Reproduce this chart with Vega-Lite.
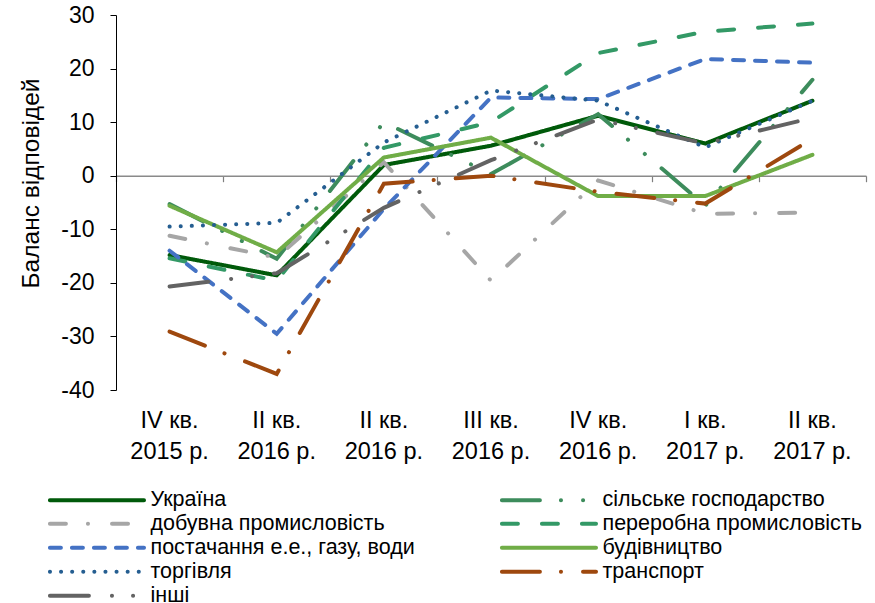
{
  "$schema": "https://vega.github.io/schema/vega-lite/v6.json",
  "width": 750,
  "height": 375,
  "autosize": "none",
  "padding": {"left": 116, "top": 15, "right": 9, "bottom": 213},
  "config": {
    "view": {"stroke": null},
    "font": "Liberation Sans",
    "axis": {"labelFont": "Liberation Sans", "titleFont": "Liberation Sans", "labelColor": "#000000", "titleColor": "#000000", "grid": false},
    "legend": {
      "orient": "none",
      "legendX": -69,
      "legendY": 474,
      "columns": 2,
      "symbolType": "M-1,0H11",
      "symbolSize": 246,
      "symbolStrokeWidth": 4,
      "labelFont": "Liberation Sans",
      "labelFontSize": 21.5,
      "labelColor": "#000000",
      "labelOffset": 82,
      "labelLimit": 400,
      "rowPadding": 1,
      "columnPadding": 78,
      "padding": 0
    }
  },
  "data": {
    "values": [
      {"q": "1|IV кв.|2015 р.", "s": "Україна", "v": -14.8},
      {"q": "2|II кв.|2016 р.", "s": "Україна", "v": -18.6},
      {"q": "3|II кв.|2016 р.", "s": "Україна", "v": 2.0},
      {"q": "4|III кв.|2016 р.", "s": "Україна", "v": 5.6},
      {"q": "5|IV кв.|2016 р.", "s": "Україна", "v": 11.2},
      {"q": "6|I кв.|2017 р.", "s": "Україна", "v": 6.0},
      {"q": "7|II кв.|2017 р.", "s": "Україна", "v": 14.0},

      {"q": "1|IV кв.|2015 р.", "s": "сільське господарство", "v": -5.3},
      {"q": "2|II кв.|2016 р.", "s": "сільське господарство", "v": -15.5},
      {"q": "3|II кв.|2016 р.", "s": "сільське господарство", "v": 10.0},
      {"q": "4|III кв.|2016 р.", "s": "сільське господарство", "v": 0.3},
      {"q": "5|IV кв.|2016 р.", "s": "сільське господарство", "v": 11.5},
      {"q": "6|I кв.|2017 р.", "s": "сільське господарство", "v": -5.6},
      {"q": "7|II кв.|2017 р.", "s": "сільське господарство", "v": 17.9},

      {"q": "1|IV кв.|2015 р.", "s": "добувна промисловість", "v": -11.2},
      {"q": "2|II кв.|2016 р.", "s": "добувна промисловість", "v": -15.3},
      {"q": "3|II кв.|2016 р.", "s": "добувна промисловість", "v": 2.5},
      {"q": "4|III кв.|2016 р.", "s": "добувна промисловість", "v": -19.6},
      {"q": "5|IV кв.|2016 р.", "s": "добувна промисловість", "v": -0.9},
      {"q": "6|I кв.|2017 р.", "s": "добувна промисловість", "v": -7.1},
      {"q": "7|II кв.|2017 р.", "s": "добувна промисловість", "v": -6.9},

      {"q": "1|IV кв.|2015 р.", "s": "переробна промисловість", "v": -15.4},
      {"q": "2|II кв.|2016 р.", "s": "переробна промисловість", "v": -19.6},
      {"q": "3|II кв.|2016 р.", "s": "переробна промисловість", "v": 5.2},
      {"q": "4|III кв.|2016 р.", "s": "переробна промисловість", "v": 10.0},
      {"q": "5|IV кв.|2016 р.", "s": "переробна промисловість", "v": 22.9},
      {"q": "6|I кв.|2017 р.", "s": "переробна промисловість", "v": 26.9},
      {"q": "7|II кв.|2017 р.", "s": "переробна промисловість", "v": 28.4},

      {"q": "1|IV кв.|2015 р.", "s": "постачання е.е., газу, води", "v": -14.0},
      {"q": "2|II кв.|2016 р.", "s": "постачання е.е., газу, води", "v": -29.5},
      {"q": "3|II кв.|2016 р.", "s": "постачання е.е., газу, води", "v": -6.2},
      {"q": "4|III кв.|2016 р.", "s": "постачання е.е., газу, води", "v": 14.6},
      {"q": "5|IV кв.|2016 р.", "s": "постачання е.е., газу, води", "v": 14.3},
      {"q": "6|I кв.|2017 р.", "s": "постачання е.е., газу, води", "v": 21.8},
      {"q": "7|II кв.|2017 р.", "s": "постачання е.е., газу, води", "v": 21.1},

      {"q": "1|IV кв.|2015 р.", "s": "будівництво", "v": -5.6},
      {"q": "2|II кв.|2016 р.", "s": "будівництво", "v": -14.3},
      {"q": "3|II кв.|2016 р.", "s": "будівництво", "v": 3.4},
      {"q": "4|III кв.|2016 р.", "s": "будівництво", "v": 7.1},
      {"q": "5|IV кв.|2016 р.", "s": "будівництво", "v": -3.8},
      {"q": "6|I кв.|2017 р.", "s": "будівництво", "v": -3.8},
      {"q": "7|II кв.|2017 р.", "s": "будівництво", "v": 3.9},

      {"q": "1|IV кв.|2015 р.", "s": "торгівля", "v": -9.5},
      {"q": "2|II кв.|2016 р.", "s": "торгівля", "v": -8.8},
      {"q": "3|II кв.|2016 р.", "s": "торгівля", "v": 6.2},
      {"q": "4|III кв.|2016 р.", "s": "торгівля", "v": 15.9},
      {"q": "5|IV кв.|2016 р.", "s": "торгівля", "v": 14.0},
      {"q": "6|I кв.|2017 р.", "s": "торгівля", "v": 5.3},
      {"q": "7|II кв.|2017 р.", "s": "торгівля", "v": 14.0},

      {"q": "1|IV кв.|2015 р.", "s": "транспорт", "v": -29.1},
      {"q": "2|II кв.|2016 р.", "s": "транспорт", "v": -37.0},
      {"q": "3|II кв.|2016 р.", "s": "транспорт", "v": -1.5},
      {"q": "4|III кв.|2016 р.", "s": "транспорт", "v": 0.0},
      {"q": "5|IV кв.|2016 р.", "s": "транспорт", "v": -3.0},
      {"q": "6|I кв.|2017 р.", "s": "транспорт", "v": -5.2},
      {"q": "7|II кв.|2017 р.", "s": "транспорт", "v": 6.9},

      {"q": "1|IV кв.|2015 р.", "s": "інші", "v": -20.7},
      {"q": "2|II кв.|2016 р.", "s": "інші", "v": -18.2},
      {"q": "3|II кв.|2016 р.", "s": "інші", "v": -6.0},
      {"q": "4|III кв.|2016 р.", "s": "інші", "v": 2.9},
      {"q": "5|IV кв.|2016 р.", "s": "інші", "v": 10.5},
      {"q": "6|I кв.|2017 р.", "s": "інші", "v": 6.0},
      {"q": "7|II кв.|2017 р.", "s": "інші", "v": 10.8}
    ]
  },
  "layer": [
    {
      "mark": {"type": "line", "strokeWidth": 4, "strokeCap": "round"},
      "encoding": {
        "x": {
          "field": "q", "type": "ordinal",
          "scale": {"type": "band", "paddingInner": 0, "paddingOuter": 0},
          "axis": {
            "orient": "bottom", "offset": -214.3, "labels": false, "title": null,
            "tickBand": "extent", "tickSize": 6, "tickColor": "#7f7f7f", "tickWidth": 1.2,
            "domainColor": "#8a8a8a", "domainWidth": 1.5
          }
        },
        "y": {
          "field": "v", "type": "quantitative",
          "scale": {"domain": [-40, 30], "nice": false},
          "axis": {
            "values": [-40, -30, -20, -10, 0, 10, 20, 30],
            "labelExpr": "toString(datum.value)",
            "labelFontSize": 23, "labelPadding": 16, "tickSize": 6,
            "tickColor": "#000000", "domainColor": "#000000",
            "title": "Баланс відповідей", "titleFontSize": 24.5, "titleFontWeight": "normal",
            "titleX": -73, "titleY": 168
          }
        },
        "color": {
          "field": "s", "type": "nominal", "title": null,
          "scale": {
            "domain": ["Україна", "добувна промисловість", "постачання е.е., газу, води", "торгівля", "інші", "сільське господарство", "переробна промисловість", "будівництво", "транспорт"],
            "range": ["#005a0a", "#a6a6a6", "#4472c4", "#255e91", "#636363", "#3d8c5c", "#339966", "#70ad47", "#9e480e"]
          },
          "legend": {"encode": {"symbols": {"update": {"strokeCap": {"value": "round"}}}}}
        },
        "strokeDash": {
          "field": "s", "type": "nominal", "title": null,
          "scale": {
            "domain": ["Україна", "добувна промисловість", "постачання е.е., газу, води", "торгівля", "інші", "сільське господарство", "переробна промисловість", "будівництво", "транспорт"],
            "range": [[1, 0], [16, 22, 0.1, 24], [11, 11], [0.1, 11], [39, 23, 0.1, 21, 0.1, 22], [38, 21, 0.1, 22, 0.1, 22], [16, 24], [1, 0], [38, 21, 0.1, 22]]
          }
        }
      }
    },
    {
      "mark": {"type": "point", "opacity": 0},
      "encoding": {
        "x": {
          "field": "q", "type": "ordinal",
          "axis": {
            "orient": "bottom", "domain": false, "ticks": false, "title": null,
            "labelAngle": 0, "labelFontSize": 23.5, "labelLineHeight": 31.5, "labelPadding": 18,
            "labelExpr": "slice(split(datum.label, '|'), 1)"
          }
        }
      }
    }
  ],
  "resolve": {"axis": {"x": "independent"}}
}
